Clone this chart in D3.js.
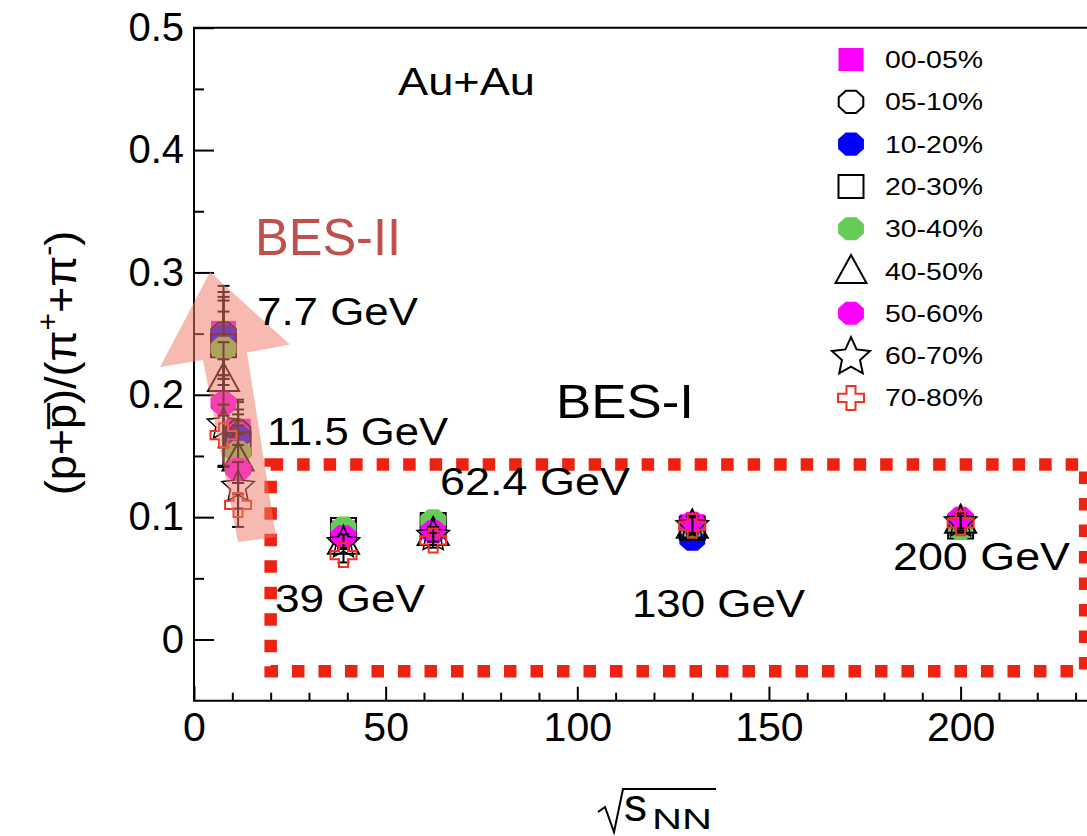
<!DOCTYPE html>
<html><head><meta charset="utf-8">
<script src="https://cdn.jsdelivr.net/npm/d3@7"></script>
<style>
body{margin:0;background:#fff}
svg{display:block}
text{font-family:"Liberation Sans",Arial,Helvetica,sans-serif}
</style>
</head><body>
<svg id="c" width="1087" height="836"></svg>
<script>
// ---------------- data ----------------
const energies = [7.7, 11.5, 39, 62.4, 130, 200];
const centralities = ["00-05%","05-10%","10-20%","20-30%","30-40%","40-50%","50-60%","60-70%","70-80%"];
const ratio0005 = [0.251, 0.171, 0.088, 0.092, 0.093, 0.094];
const ratio0510 = [0.250, 0.170, 0.089, 0.093, 0.092, 0.093];
const ratio1020 = [0.248, 0.166, 0.087, 0.090, 0.082, 0.093];
const ratio2030 = [0.240, 0.160, 0.090, 0.094, 0.091, 0.092];
const ratio3040 = [0.238, 0.153, 0.091, 0.097, 0.092, 0.091];
const ratio4050 = [0.213, 0.148, 0.080, 0.087, 0.093, 0.097];
const ratio5060 = [0.193, 0.139, 0.084, 0.088, 0.095, 0.099];
const ratio6070 = [0.177, 0.126, 0.080, 0.086, 0.094, 0.097];
const ratio7080 = [0.167, 0.110, 0.069, 0.081, 0.093, 0.095];
const err0005 = [0.038, 0.025, 0.006, 0.006, 0.007, 0.006];
const err0510 = [0.034, 0.024, 0.006, 0.006, 0.007, 0.006];
const err1020 = [0.032, 0.022, 0.006, 0.006, 0.007, 0.006];
const err2030 = [0.037, 0.024, 0.006, 0.006, 0.007, 0.006];
const err3040 = [0.030, 0.022, 0.006, 0.006, 0.007, 0.006];
const err4050 = [0.030, 0.020, 0.006, 0.006, 0.007, 0.006];
const err5060 = [0.036, 0.020, 0.006, 0.006, 0.007, 0.006];
const err6070 = [0.036, 0.019, 0.006, 0.006, 0.007, 0.006];
const err7080 = [0.025, 0.018, 0.006, 0.006, 0.007, 0.006];
const xTicks = [0, 50, 100, 150, 200];
const yTicks = [0, 0.1, 0.2, 0.3, 0.4, 0.5];
const yTickLabels = ["0", "0.1", "0.2", "0.3", "0.4", "0.5"];
const energyLabels = ["7.7 GeV", "11.5 GeV", "39 GeV", "62.4 GeV", "130 GeV", "200 GeV"];
// BES-I box (data units) and BES-II arrow (data units)
const boxX = [20, 232.5];
const boxY = [-0.026, 0.143];
const arrowPts = [[4.17,0.3004],[25.05,0.2410],[13.83,0.2345],[21.39,0.0838],[11.48,0.0797],[2.35,0.2284],[-8.87,0.2227]];

const series = [
  {v: ratio0005, e: err0005, shape: "square",   fill: "#ff00ff", stroke: "none"},
  {v: ratio0510, e: err0510, shape: "octagon",  fill: "none",    stroke: "#000"},
  {v: ratio1020, e: err1020, shape: "circle",   fill: "#0000ff", stroke: "none"},
  {v: ratio2030, e: err2030, shape: "square",   fill: "none",    stroke: "#000"},
  {v: ratio3040, e: err3040, shape: "circle",   fill: "#66cc55", stroke: "none"},
  {v: ratio4050, e: err4050, shape: "triangle", fill: "none",    stroke: "#000"},
  {v: ratio5060, e: err5060, shape: "circle",   fill: "#ff00ff", stroke: "none"},
  {v: ratio6070, e: err6070, shape: "star",     fill: "none",    stroke: "#000"},
  {v: ratio7080, e: err7080, shape: "cross",    fill: "none",    stroke: "#ee3322"}
];

// ---------------- layout ----------------
const svg = d3.select("#c");
const X0 = 194, PX_PER = 3.833;
const x = d3.scaleLinear().domain([0, 240]).range([X0, X0 + 240 * PX_PER]);
const y = d3.scaleLinear().domain([-0.05, 0.5]).range([700.7, 27.7]);

// marker paths
function markerPath(shape, big) {
  switch (shape) {
    case "square": { const w = 12.5, h = 11.5; return `M${-w},${-h}H${w}V${h}H${-w}Z`; }
    case "octagon": case "circle": {
      const rx = shape === "circle" ? 14 : 13.3, ry = shape === "circle" ? 12.5 : 12;
      let p = "";
      for (let k = 0; k < 8; k++) { const a = Math.PI / 8 + k * Math.PI / 4; p += (k ? "L" : "M") + (rx * Math.cos(a)).toFixed(2) + "," + (ry * Math.sin(a)).toFixed(2); }
      return p + "Z";
    }
    case "triangle": { return `M0,-16L15.5,12L-15.5,12Z`; }
    case "star": {
      let p = ""; const R = big ? 20 : 17, r = big ? 9.5 : 8;
      for (let k = 0; k < 10; k++) {
        const a = -Math.PI / 2 + k * Math.PI / 5, rr = k % 2 ? r : R;
        p += (k ? "L" : "M") + (rr * Math.cos(a)).toFixed(2) + "," + (rr * Math.sin(a) + 1.5).toFixed(2);
      }
      return p + "Z";
    }
    case "cross": {
      const a = 13, b = 4.5, c = 12, d = 4.2;
      return `M${-b},${-c}H${b}V${-d}H${a}V${d}H${b}V${c}H${-b}V${d}H${-a}V${-d}H${-b}Z`;
    }
  }
}
function drawMarker(g, s, cx, cy, big) {
  g.append("path").attr("d", markerPath(s.shape, big))
    .attr("transform", `translate(${cx},${cy})`)
    .attr("fill", s.fill === "none" ? "none" : s.fill)
    .attr("stroke", s.stroke).attr("stroke-width", s.stroke === "none" ? 0 : (s.shape === "star" && !big ? 1.5 : 2))
    .attr("stroke-linejoin", "miter");
}

// ---------------- axes ----------------
const axG = svg.append("g");
const xMinor = d3.range(0, 241, 10).filter(v => v % 50 !== 0);
const yMinor = [0.05, 0.15, 0.25, 0.35, 0.45];

const xAxis = d3.axisBottom(x).tickValues(xTicks).tickSizeInner(-14).tickSizeOuter(0).tickPadding(11).tickFormat(d3.format("d"));
const gx = axG.append("g").attr("transform", `translate(0,${y.range()[0]})`).call(xAxis);
gx.select(".domain").remove();
gx.selectAll("line").attr("stroke", "#000").attr("stroke-width", 2);
gx.selectAll("text").style("font-size", "41px").style("fill", "#000");
const gxm = axG.append("g").attr("transform", `translate(0,${y.range()[0]})`)
  .call(d3.axisBottom(x).tickValues(xMinor).tickSizeInner(-8).tickSizeOuter(0).tickFormat(""));
gxm.select(".domain").remove();
gxm.selectAll("line").attr("stroke", "#000").attr("stroke-width", 2);

const yAxis = d3.axisLeft(y).tickValues(yTicks).tickSizeInner(-20).tickSizeOuter(0).tickPadding(10)
  .tickFormat((d, i) => yTickLabels[i]);
const gy = axG.append("g").attr("transform", `translate(${X0},0)`).call(yAxis);
gy.select(".domain").remove();
gy.selectAll("line").attr("stroke", "#000").attr("stroke-width", 2);
gy.selectAll("text").style("font-size", "40px").style("fill", "#000");
const gym = axG.append("g").attr("transform", `translate(${X0},0)`)
  .call(d3.axisLeft(y).tickValues(yMinor).tickSizeInner(-10).tickSizeOuter(0).tickFormat(""));
gym.select(".domain").remove();
gym.selectAll("line").attr("stroke", "#000").attr("stroke-width", 2);

// frame
axG.append("path")
  .attr("d", `M${x.range()[1]},${y.range()[1]}H${X0}V${y.range()[0]}H${x.range()[1]}`)
  .attr("fill", "none").attr("stroke", "#000").attr("stroke-width", 2);

// ---------------- data ----------------
const dataG = svg.append("g");
series.forEach(s => {
  const g = dataG.append("g");
  energies.forEach((E, j) => {
    const cx = x(E), v = s.v[j], e = s.e[j];
    const y1 = y(v - e), y2 = y(v + e);
    g.append("line").attr("x1", cx).attr("x2", cx).attr("y1", y1).attr("y2", y2).attr("stroke", "#000").attr("stroke-width", 2);
    [y1, y2].forEach(yy => g.append("line").attr("x1", cx - 6).attr("x2", cx + 6).attr("y1", yy).attr("y2", yy).attr("stroke", "#000").attr("stroke-width", 2));
    drawMarker(g, s, cx, y(v), false);
  });
});

// ---------------- BES-I dashed box ----------------
svg.append("rect")
  .attr("x", x(boxX[0])).attr("y", y(boxY[1]))
  .attr("width", x(boxX[1]) - x(boxX[0])).attr("height", y(boxY[0]) - y(boxY[1]))
  .attr("fill", "none").attr("stroke", "#ee2211").attr("stroke-width", 12.5)
  .attr("stroke-dasharray", "12.5 14");

// ---------------- BES-II arrow ----------------
svg.append("path")
  .attr("d", "M" + arrowPts.map(p => x(p[0]).toFixed(1) + "," + y(p[1]).toFixed(1)).join("L") + "Z")
  .attr("fill", "#ef7a68").attr("fill-opacity", 0.52);

// ---------------- annotations ----------------
function label(txt, px, py, size, len, color) {
  const t = svg.append("text").attr("x", px).attr("y", py).style("font-size", size + "px")
    .style("fill", color || "#000").text(txt);
  if (len) t.attr("textLength", len).attr("lengthAdjust", "spacingAndGlyphs");
  return t;
}
label("Au+Au", 398, 95, 38, 137);
label("BES-II", 255, 255, 51, 146, "#c0504d");
label("BES-I", 556, 418, 49, 138);
label(energyLabels[0], 257, 325, 39, 161);
label(energyLabels[1], 267, 445, 39, 181);
label(energyLabels[3], 440, 495, 39, 190);
label(energyLabels[2], 275, 612, 39, 150);
label(energyLabels[4], 632, 617, 39, 173);
label(energyLabels[5], 893, 570, 39, 177);

// ---------------- legend ----------------
const legG = svg.append("g");
series.forEach((s, i) => {
  const ly = 59.5 + i * 42.3;
  drawMarker(legG, s, 851, ly, true);
  legG.append("text").attr("x", 885).attr("y", ly + 8.5).style("font-size", "24px").style("fill", "#000")
    .attr("textLength", 98).attr("lengthAdjust", "spacingAndGlyphs").text(centralities[i]);
});

// ---------------- axis titles ----------------
const yt = svg.append("text").attr("transform", "translate(76,363) rotate(-90)")
  .attr("text-anchor", "middle").style("font-size", "45px").style("fill", "#000");
yt.append("tspan").text("(p+");
yt.append("tspan").text("p\u0305");
yt.append("tspan").text(")/(π");
yt.append("tspan").attr("dy", -18).style("font-size", "30px").text("+");
yt.append("tspan").attr("dy", 18).text("+π");
yt.append("tspan").attr("dy", -18).style("font-size", "30px").text("-");
yt.append("tspan").attr("dy", 18).text(")");

svg.append("path").attr("d", "M598,812L605,807L614,832L623,789L716,789")
  .attr("fill", "none").attr("stroke", "#000").attr("stroke-width", 2);
svg.append("text").attr("x", 624).attr("y", 821).style("font-size", "46px").style("fill", "#000").text("s");
svg.append("text").attr("x", 652).attr("y", 829).style("font-size", "30px").style("fill", "#000")
  .attr("textLength", 60).attr("lengthAdjust", "spacingAndGlyphs").text("NN");
</script>
</body></html>
